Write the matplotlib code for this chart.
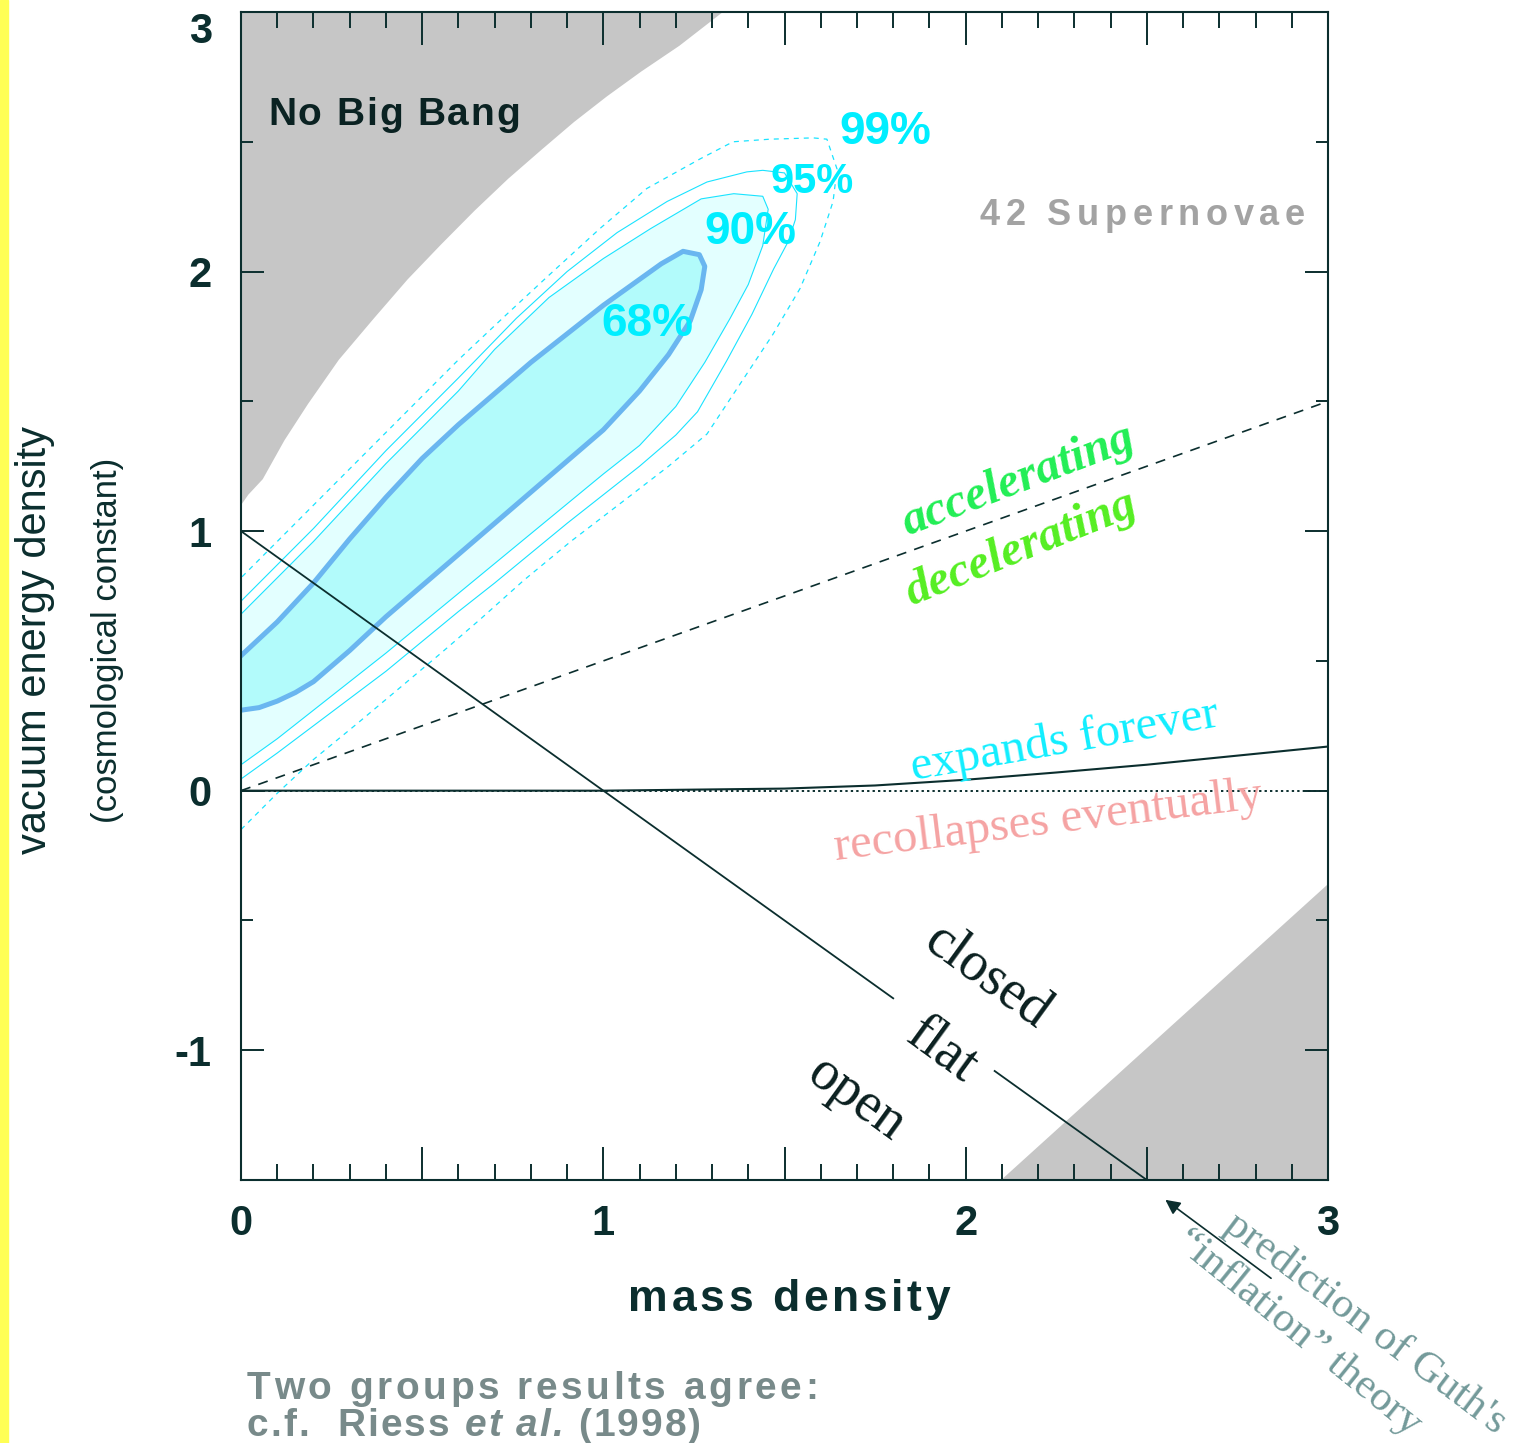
import numpy as np
import matplotlib
matplotlib.use('Agg')
import matplotlib.pyplot as plt
from matplotlib.patches import Rectangle
from matplotlib.font_manager import FontProperties

# ---------------- data ----------------
# "No Big Bang" boundary (upper-left grey region)
nobb_x = [0.0, 0.02, 0.06, 0.12, 0.185, 0.27, 0.367, 0.46, 0.552, 0.645, 0.737, 0.83, 0.919, 1.01, 1.104, 1.21, 1.33]
nobb_y = [1.10, 1.14, 1.20, 1.35, 1.49, 1.66, 1.82, 1.97, 2.104, 2.235, 2.357, 2.47, 2.576, 2.675, 2.77, 2.87, 3.0]

# lower-right grey region
lr_x = [2.098, 3.0, 3.0]
lr_y = [-1.5, -0.36, -1.5]

# 68% contour
c68_x = [0, 0.05, 0.1, 0.15, 0.2, 0.3, 0.4, 0.5, 0.6, 0.7, 0.8, 0.9, 1.0, 1.1, 1.18, 1.24, 1.27, 1.28, 1.265, 1.22,
         1.16, 1.1, 1.0, 0.9, 0.8, 0.7, 0.6, 0.5, 0.4, 0.3, 0.2, 0.1, 0]
c68_y = [0.31, 0.32, 0.345, 0.378, 0.42, 0.54, 0.67, 0.79, 0.91, 1.03, 1.15, 1.27, 1.39, 1.54, 1.68, 1.81, 1.93, 2.02, 2.065, 2.078,
         2.03, 1.97, 1.87, 1.76, 1.65, 1.53, 1.41, 1.28, 1.13, 0.97, 0.80, 0.65, 0.52]

# 90% contour
c90_x = [0, 0.1, 0.2, 0.3, 0.4, 0.5, 0.6, 0.7, 0.8, 0.9, 1.0, 1.1, 1.2, 1.28, 1.35, 1.40, 1.44, 1.455, 1.44,
         1.36, 1.27, 1.13, 1.0, 0.85, 0.7, 0.6, 0.5, 0.4, 0.3, 0.2, 0.1, 0]
c90_y = [0.10, 0.20, 0.31, 0.42, 0.53, 0.645, 0.76, 0.875, 0.99, 1.105, 1.22, 1.33, 1.48, 1.65, 1.82, 1.95, 2.10, 2.24, 2.29,
         2.30, 2.28, 2.165, 2.05, 1.90, 1.70, 1.54, 1.40, 1.26, 1.11, 0.96, 0.82, 0.68]

# 95% contour
c95_x = [0, 0.1, 0.2, 0.3, 0.4, 0.5, 0.6, 0.7, 0.8, 0.9, 1.0, 1.1, 1.2, 1.26, 1.34, 1.41, 1.47, 1.51, 1.53, 1.535, 1.5,
         1.44, 1.396, 1.286, 1.176, 1.038, 0.9, 0.76, 0.6, 0.5, 0.4, 0.3, 0.2, 0.1, 0]
c95_y = [0.045, 0.145, 0.25, 0.355, 0.46, 0.575, 0.69, 0.80, 0.915, 1.03, 1.14, 1.25, 1.37, 1.46, 1.655, 1.835, 2.01, 2.115, 2.2, 2.3, 2.38,
         2.39, 2.384, 2.345, 2.27, 2.15, 2.0, 1.82, 1.59, 1.45, 1.31, 1.16, 1.01, 0.87, 0.73]

# 99% contour
c99_x = [0, 0.1, 0.2, 0.322, 0.45, 0.552, 0.66, 0.78, 0.91, 1.05, 1.18, 1.286, 1.377, 1.468, 1.543, 1.598, 1.634, 1.645,
         1.617, 1.579, 1.46, 1.358, 1.267, 1.12, 0.99, 0.853, 0.737, 0.6, 0.5, 0.4, 0.3, 0.2, 0.1, 0]
c99_y = [-0.15, -0.01, 0.12, 0.26, 0.41, 0.53, 0.66, 0.81, 0.96, 1.11, 1.25, 1.374, 1.566, 1.758, 1.935, 2.115, 2.27, 2.395,
         2.51, 2.515, 2.51, 2.50, 2.434, 2.32, 2.165, 1.99, 1.84, 1.66, 1.52, 1.38, 1.24, 1.10, 0.96, 0.82]

# flat universe line (mass + vacuum = 1), with gap for the label
flat1_x = [0.0, 1.80]
flat1_y = [1.0, -0.80]
flat2_x = [2.08, 2.5]
flat2_y = [-1.08, -1.5]

# accelerating / decelerating boundary
acc_x = [0.0, 3.0]
acc_y = [0.0, 1.5]

# expands forever / recollapses boundary
exp_x = [0.0, 1.0, 1.5, 1.75, 2.0, 2.25, 2.5, 2.75, 3.0]
exp_y = [0.0, 0.0, 0.008, 0.02, 0.042, 0.07, 0.10, 0.135, 0.17]

xtick_vals = [0, 0.5, 1, 1.5, 2, 2.5, 3]
xtick_labels = ['0', '', '1', '', '2', '', '3']
ytick_vals = [-1, 0, 1, 2, 3]
ytick_labels = ['-1', '0', '1', '2', '3']

# ---------------- figure ----------------
W, H = 1521, 1443
fig = plt.figure(figsize=(W / 100, H / 100), dpi=100)
fig.patch.set_facecolor('white')
fig.patches.append(Rectangle((0, 0), 8 / W, 1, transform=fig.transFigure, color='#ffff55', zorder=0))

ax = fig.add_axes([241 / W, 1 - 1180 / H, (1328 - 241) / W, (1180 - 12) / H])
ax.set_xlim(0, 3)
ax.set_ylim(-1.5, 3)

INK = '#0b2e2e'
GREY = '#c6c6c6'
CYAN = '#19e3ff'
SANS = 'Liberation Sans'
SERIF = 'Liberation Serif'

# grey regions
ax.fill(nobb_x + [0.0], nobb_y + [3.0], color=GREY, lw=0, zorder=1)
ax.fill(lr_x, lr_y, color=GREY, lw=0, zorder=1)

# confidence regions
ax.fill(c90_x, c90_y, color='#e3ffff', lw=0, zorder=2)
ax.fill(c68_x, c68_y, color='#b2fbfb', lw=0, zorder=3)
ax.plot(c99_x, c99_y, color=CYAN, lw=0.9, ls=(0, (4, 4)), zorder=4)
ax.plot(c95_x, c95_y, color=CYAN, lw=0.8, zorder=4)
ax.plot(c90_x, c90_y, color=CYAN, lw=0.8, zorder=4)
ax.plot(c68_x, c68_y, color='#6ab6f0', lw=3.6, zorder=4, solid_joinstyle='round')

# lines
ax.plot(flat1_x, flat1_y, color=INK, lw=1.3, zorder=6)
ax.plot(flat2_x, flat2_y, color=INK, lw=1.3, zorder=6)
ax.plot(acc_x, acc_y, color=INK, lw=1.2, ls=(0, (6, 5)), zorder=6)
ax.plot([0, 3], [0, 0], color=INK, lw=1.4, ls=(0, (1.2, 1.6)), zorder=6)
ax.plot(exp_x, exp_y, color=INK, lw=1.5, zorder=6)

# ticks
ax.set_xticks(xtick_vals)
ax.set_xticklabels(xtick_labels)
ax.set_xticks(np.arange(0, 3.001, 0.1), minor=True)
ax.set_yticks(ytick_vals)
ax.set_yticklabels(ytick_labels)
ax.set_yticks([-1.5, -0.5, 0.5, 1.5, 2.5], minor=True)
ax.tick_params(which='both', direction='in', top=True, right=True, color=INK, width=1.4)
ax.tick_params(axis='x', which='major', length=24, pad=17, labelsize=30, labelcolor=INK)
ax.tick_params(axis='x', which='minor', length=11.5)
ax.tick_params(axis='y', which='major', length=16.5, pad=21, labelsize=30, labelcolor=INK)
ax.tick_params(axis='y', which='minor', length=8.6)
for lab in ax.get_xticklabels() + ax.get_yticklabels():
    lab.set_fontfamily(SANS)
    lab.set_fontweight('bold')
ax.get_yticklabels()[-1].set_verticalalignment('top')
for s in ax.spines.values():
    s.set_color(INK)
    s.set_linewidth(1.5)
    s.set_zorder(10)

fig.canvas.draw()
renderer = fig.canvas.get_renderer()


def spaced(segments, x_px, base_px, width_px, size, color, family=SANS):
    """Draw letter-spaced text (left start x_px, baseline base_px, total width width_px)."""
    items = []
    for text, weight, style in segments:
        fp = FontProperties(family=family, size=size, weight=weight, style=style)
        wa = renderer.get_text_width_height_descent('aa', fp, ismath=False)[0]
        wsp = renderer.get_text_width_height_descent('a a', fp, ismath=False)[0] - wa
        for ch in text:
            if ch == ' ':
                w = wsp
            else:
                w = renderer.get_text_width_height_descent(ch, fp, ismath=False)[0]
            items.append((ch, fp, w))
    natural = sum(w for _, _, w in items)
    gap = max((width_px - natural) / max(len(items) - 1, 1), 0.5)
    x = x_px
    for ch, fp, w in items:
        if ch != ' ':
            fig.text(x / W, 1 - base_px / H, ch, fontproperties=fp, color=color, ha='left', va='baseline')
        x += w + gap


# in-axes labels
spaced([('No Big Bang', 'bold', 'normal')], 268, 125, 252, 28, '#0a2222')
spaced([('42 Supernovae', 'bold', 'normal')], 980, 225, 325, 26, '#a3a3a3')

for txt, x, y, fs in [('99%', 1.778, 2.537, 33), ('95%', 1.576, 2.345, 30), ('90%', 1.405, 2.154, 33),
                      ('68%', 1.121, 1.797, 33)]:
    ax.text(x, y, txt, ha='center', va='center', fontsize=fs, fontweight='bold', family=SANS,
            color='#00eeff', zorder=8)

ax.text(2.145, 1.194, 'accelerating', ha='center', va='center', rotation=21, rotation_mode='anchor',
        fontsize=35, fontweight='bold', style='italic', family=SERIF, color='#22ee55', zorder=8)
ax.text(2.153, 0.933, 'decelerating', ha='center', va='center', rotation=22, rotation_mode='anchor',
        fontsize=35, fontweight='bold', style='italic', family=SERIF, color='#55ee22', zorder=8)
ax.text(2.272, 0.192, 'expands forever', ha='center', va='center', rotation=10, rotation_mode='anchor',
        fontsize=35, family=SERIF, color='#11eeff', zorder=8)
ax.text(2.227, -0.119, 'recollapses eventually', ha='center', va='center', rotation=7, rotation_mode='anchor',
        fontsize=35, family=SERIF, color='#f5a3a3', zorder=8)
for txt, x, y in [('closed', 2.062, -0.718), ('flat', 1.935, -0.998), ('open', 1.70, -1.19)]:
    ax.text(x, y, txt, ha='center', va='center', rotation=-36, rotation_mode='anchor',
            fontsize=40, family=SERIF, color='#0a1f1f', zorder=8)

# axis labels
spaced([('mass density', 'bold', 'normal')], 628, 1311, 322, 32, INK)
fig.text(35 / W, 1 - 640 / H, 'vacuum energy density', ha='center', va='center', rotation=90,
         fontsize=30, family=SANS, color=INK)
fig.text(108 / W, 1 - 640 / H, '(cosmological constant)', ha='center', va='center', rotation=90,
         fontsize=25, family=SANS, color=INK)

# Guth annotation
ax.annotate('', xy=(2.545, -1.57), xytext=(2.849, -1.885), annotation_clip=False,
            arrowprops=dict(arrowstyle='-|>', color=INK, lw=1.2, mutation_scale=22))
fig.text(1365 / W, 1 - 1323 / H, "prediction of Guth's", ha='center', va='center', rotation=-37,
         rotation_mode='anchor', fontsize=31, family=SERIF, color='#739a9a')
fig.text(1299 / W, 1 - 1333 / H, '\u201cinflation\u201d theory', ha='center', va='center', rotation=-39,
         rotation_mode='anchor', fontsize=31, family=SERIF, color='#739a9a')

# footer
FOOT = '#788a8a'
spaced([('Two groups results agree:', 'bold', 'normal')], 247, 1399, 571, 28, FOOT)
spaced([('c.f.  Riess ', 'bold', 'normal'), ('et al.', 'bold', 'italic'), (' (1998)', 'bold', 'normal')],
       247, 1436, 454, 28, FOOT)

fig.savefig('out.png', dpi=100)
